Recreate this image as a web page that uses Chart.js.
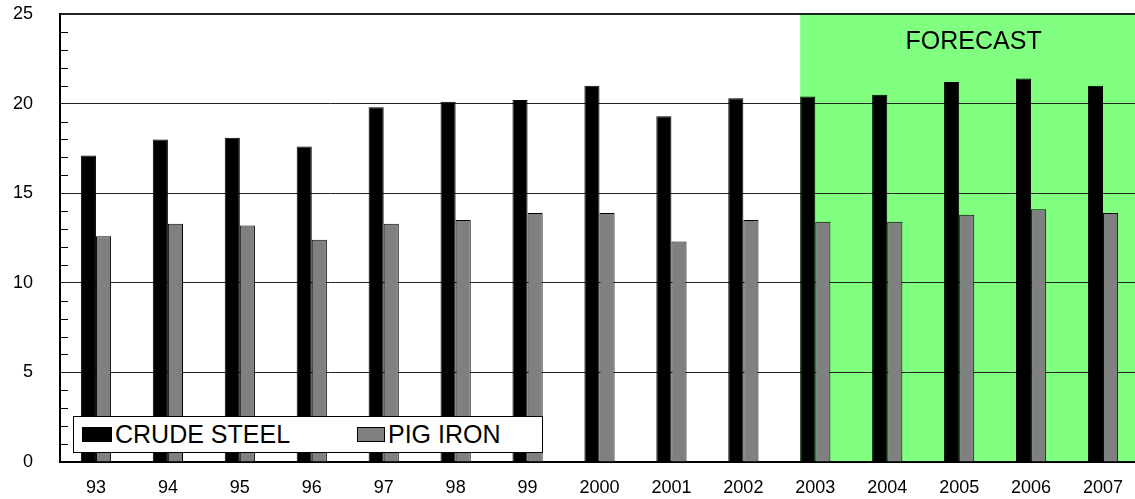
<!DOCTYPE html>
<html>
<head>
<meta charset="utf-8">
<script src="https://cdn.jsdelivr.net/npm/chart.js@4/dist/chart.umd.min.js"></script>
<style>
  html, body { margin: 0; padding: 0; background: #fff; }
  #wrap { position: relative; width: 1135px; height: 499px; overflow: hidden; }
  #c { display: block; }
  #legend {
    position: absolute; left: 73px; top: 416px; width: 470px; height: 37px;
    box-sizing: border-box; border: 1px solid #000; background: #fff;
    font-family: "Liberation Sans", Arial, sans-serif; font-size: 25px; color: #000;
  }
  .item { position: absolute; top: 0; height: 35px; display: flex; align-items: center; }
  .sw { display: inline-block; width: 30px; height: 15px; box-sizing: border-box; border: 1px solid #000; margin-right: 3px; }
</style>
</head>
<body>
<div id="wrap">
  <canvas id="c" width="1139" height="499"></canvas>
  <div id="legend">
    <div class="item" style="left:8px"><span class="sw" style="background:#000"></span>CRUDE STEEL</div>
    <div class="item" style="left:283px"><span class="sw" style="background:#808080;width:28px"></span>PIG IRON</div>
  </div>
</div>
<script>
// Years shown along the bottom axis
const years = ['93', '94', '95', '96', '97', '98', '99', '2000', '2001', '2002', '2003', '2004', '2005', '2006', '2007'];
// Production, million tonnes
const crudeSteel = [17.1, 18.0, 18.1, 17.6, 19.8, 20.1, 20.2, 21.0, 19.3, 20.3, 20.4, 20.5, 21.2, 21.4, 21.0];
const pigIron = [12.6, 13.3, 13.2, 12.4, 13.3, 13.5, 13.9, 13.9, 12.3, 13.5, 13.4, 13.4, 13.8, 14.1, 13.9];
// First year of the forecast period
const forecastFrom = '2003';
const forecastLabel = 'FORECAST';
const yTicks = [0, 5, 10, 15, 20, 25];

const FONT = '"Liberation Sans", Arial, sans-serif';

// Green forecast band plus its caption, painted under the grid
const forecastBand = {
  id: 'forecastBand',
  beforeDraw(chart) {
    const { ctx, chartArea } = chart;
    const bar = chart.getDatasetMeta(0).data[years.indexOf(forecastFrom)];
    if (!bar) return;
    const x0 = bar.x - bar.width / 2;
    ctx.save();
    ctx.fillStyle = '#80ff80';
    ctx.fillRect(x0, chartArea.top, chartArea.right - x0, chartArea.bottom - chartArea.top);
    ctx.fillStyle = '#000';
    ctx.font = '25px ' + FONT;
    ctx.textAlign = 'center';
    ctx.textBaseline = 'middle';
    ctx.fillText(forecastLabel, (x0 + chartArea.right) / 2 + 4, chartArea.top + 28);
    ctx.restore();
  }
};

// Short minor ticks on the inside of the value axis, one per unit
const minorTicks = {
  id: 'minorTicks',
  beforeDatasetsDraw(chart) {
    const { ctx, chartArea, scales } = chart;
    const y = scales.y;
    ctx.save();
    ctx.strokeStyle = '#000';
    ctx.lineWidth = 1;
    ctx.beginPath();
    for (let v = y.min + 1; v < y.max; v++) {
      if (v % 5 === 0) continue;
      const py = Math.round(y.getPixelForValue(v)) + 0.5;
      ctx.moveTo(chartArea.left, py);
      ctx.lineTo(chartArea.left + 8, py);
    }
    ctx.stroke();
    ctx.restore();
  }
};

new Chart(document.getElementById('c'), {
  type: 'bar',
  data: {
    labels: years,
    datasets: [
      {
        label: 'CRUDE STEEL', data: crudeSteel,
        backgroundColor: '#000', borderColor: '#000', borderWidth: 1,
        categoryPercentage: 0.42, barPercentage: 1
      },
      {
        label: 'PIG IRON', data: pigIron,
        backgroundColor: '#808080', borderColor: '#000', borderWidth: 1,
        categoryPercentage: 0.42, barPercentage: 1
      }
    ]
  },
  options: {
    responsive: false,
    animation: false,
    devicePixelRatio: 1,
    layout: { padding: { top: 14, right: 0, left: 0, bottom: 0 } },
    plugins: { legend: { display: false }, tooltip: { enabled: false }, title: { display: false } },
    scales: {
      x: {
        grid: { display: false, drawTicks: false },
        border: { display: true, color: '#000', width: 2 },
        ticks: { color: '#000', font: { family: FONT, size: 18 }, padding: 15, maxRotation: 0, autoSkip: false },
        afterFit(scale) {
          scale.height = 37;
          scale.paddingLeft = 0;
          scale.paddingRight = 0;
        }
      },
      y: {
        min: 0, max: 25,
        afterBuildTicks(scale) { scale.ticks = yTicks.map(v => ({ value: v })); },
        grid: {
          drawTicks: false,
          color: ctx => (ctx.tick && ctx.tick.value === 0) ? 'rgba(0,0,0,0)' : '#222',
          lineWidth: ctx => (ctx.tick && ctx.tick.value === 25) ? 2 : 1
        },
        border: { display: true, color: '#000', width: 2 },
        ticks: { color: '#000', font: { family: FONT, size: 18 }, padding: 27 },
        afterFit(scale) {
          scale.width = 60;
          scale.paddingTop = 0;
          scale.paddingBottom = 0;
        }
      }
    }
  },
  plugins: [forecastBand, minorTicks]
});
</script>
</body>
</html>
